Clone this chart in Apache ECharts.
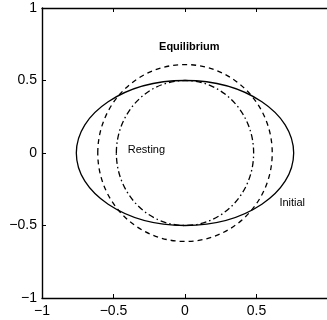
<!DOCTYPE html>
<html><head><meta charset="utf-8">
<script src="https://cdn.jsdelivr.net/npm/echarts@6/dist/echarts.min.js"></script>
<style>html,body{margin:0;padding:0;background:#fff}#c{width:327px;height:320px}</style>
</head><body><div id="c"></div>
<script>
const curveNames = ['Initial', 'Equilibrium', 'Resting'];
const centerX = [0, 0, 0];
const centerY = [0, 0, 0];
const semiX = [0.76, 0.61, 0.48];
const semiY = [0.5, 0.61, 0.5];
const curveDash = ['solid', [5, 4], [6, 3, 1.5, 3]];
const labelTexts = ['Equilibrium', 'Resting', 'Initial'];
const labelX = [0.03, -0.4, 0.66];
const labelY = [0.73, 0.02, -0.345];
const labelBold = [true, false, false];
const xTickLabels = ['\u22121', '\u22120.5', '0', '0.5', ''];
const yTickLabels = ['\u22121', '\u22120.5', '0', '0.5', '1'];

const idx = v => Math.round((v + 1) * 2);
const font = 'Liberation Sans, Arial, Helvetica, sans-serif';
const chart = echarts.init(document.getElementById('c'));
const axisCommon = {
  type: 'value', min: -1, max: 1, interval: 0.5,
  splitLine: {show: false},
  axisLine: {show: true, onZero: false, lineStyle: {color: '#000', width: 1.4}},
  axisTick: {show: true, inside: true, length: 4, lineStyle: {color: '#000', width: 1}},
};
chart.setOption({
  animation: false,
  grid: {left: 42, top: 8, width: 286, height: 290, outerBoundsMode: 'none', containLabel: false},
  xAxis: [
    Object.assign({}, axisCommon, {position: 'bottom',
      axisLabel: {formatter: v => xTickLabels[idx(v)], color: '#000', fontSize: 14, fontFamily: font, margin: 6}}),
    Object.assign({}, axisCommon, {position: 'top', axisLabel: {show: false}})
  ],
  yAxis: [
    Object.assign({}, axisCommon, {position: 'left',
      axisLabel: {formatter: v => yTickLabels[idx(v)], color: '#000', fontSize: 14, fontFamily: font, margin: 5}})
  ],
  series: curveNames.map((n, i) => ({
    type: 'custom', name: n, coordinateSystem: 'cartesian2d', silent: true,
    encode: {x: 0, y: 1},
    data: [[centerX[i], centerY[i], semiX[i], semiY[i]]],
    renderItem: function (params, api) {
      const c = api.coord([api.value(0), api.value(1)]);
      const s = api.size([api.value(2), api.value(3)]);
      return {type: 'ellipse', shape: {cx: c[0], cy: c[1], rx: s[0], ry: s[1]},
        style: {fill: null, stroke: '#000', lineWidth: 1.3, lineDash: curveDash[i]}};
    }
  })).concat([{
    type: 'custom', name: 'labels', coordinateSystem: 'cartesian2d', silent: true,
    encode: {x: 0, y: 1},
    data: labelTexts.map((t, i) => [labelX[i], labelY[i], i]),
    renderItem: function (params, api) {
      const i = api.value(2);
      const c = api.coord([api.value(0), api.value(1)]);
      return {type: 'text', x: c[0], y: c[1], style: {text: labelTexts[i],
        fill: '#000', font: (labelBold[i] ? 'bold ' : '') + '11px ' + font,
        align: i === 0 ? 'center' : 'left', verticalAlign: 'middle'}};
    }
  }])
});
</script></body></html>
